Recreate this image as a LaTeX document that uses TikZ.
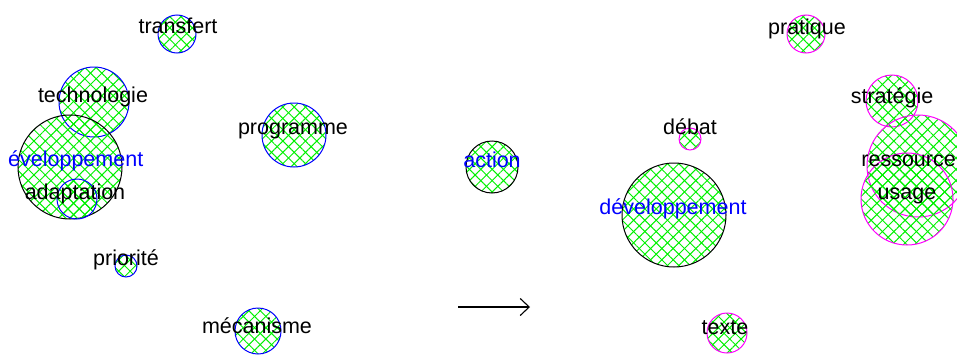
\documentclass[tikz,border=0pt]{standalone}
\usepackage{fontspec}
\setmainfont{Liberation Sans}
\usetikzlibrary{patterns.meta,arrows.meta}
\definecolor{hatchgreen}{RGB}{0,240,0}
\definecolor{rblue}{RGB}{0,0,255}
\definecolor{rmag}{RGB}{255,0,255}
\tikzset{
  hatch/.style={pattern={Lines[angle=45,distance=8pt,line width=1pt]},pattern color=hatchgreen},
  hatchb/.style={pattern={Lines[angle=-45,distance=8pt,line width=1pt]},pattern color=hatchgreen},
  bub/.style={circle,inner sep=0pt,minimum size=#1,line width=1pt},
  lbl/.style={anchor=base,inner sep=0pt,font=\fontsize{21.5}{21.5}\selectfont},
}
\newcommand{\bubble}[5]{% name, x, y, radius, color
  \node[bub=2*#4pt,hatch,draw=none] at (#2,#3) {};
  \node[bub=2*#4pt,hatchb,draw=#5] (#1) at (#2,#3) {};
}
\begin{document}
\begin{tikzpicture}[x=1pt,y=-1pt]
\useasboundingbox (0,0) rectangle (957,356);
% left group
\bubble{c1}{177}{34}{19}{rblue}
\bubble{c2}{94}{102}{35}{rblue}
\bubble{c3}{70}{167}{52}{black}
\bubble{c4}{77}{199}{20}{rblue}
\bubble{c5}{294}{135}{32}{rblue}
\bubble{c6}{126}{266}{11}{rblue}
\bubble{c7}{258}{331}{23}{rblue}
% middle
\bubble{c8}{492}{167}{26}{black}
% right group
\bubble{d1}{806}{34}{19}{rmag}
\bubble{d2}{892}{101}{26}{rmag}
\bubble{d3}{690}{139}{11}{rmag}
\bubble{d4}{918}{166}{51}{rmag}
\bubble{d5}{907}{199}{46}{rmag}
\bubble{d6}{674}{215}{52}{black}
\bubble{d7}{727}{333}{20}{rmag}
% labels
\node[lbl] (t1) at (178,33) {transfert};
\node[lbl] (t2) at (93,102) {technologie};
\node[lbl,text=rblue,anchor=base west] (t3) at (8,166) {éveloppement};
\node[lbl] (t4) at (75,199) {adaptation};
\node[lbl] (t5) at (293,134) {programme};
\node[lbl] (t6) at (126,265) {priorité};
\node[lbl] (t7) at (257,333) {mécanisme};
\node[lbl,text=rblue] (t8) at (492,167) {action};
\node[lbl] (u1) at (807,34) {pratique};
\node[lbl] (u2) at (892,103) {stratégie};
\node[lbl] (u3) at (690,134) {débat};
\node[lbl,anchor=base east] (u4) at (956,166) {ressource};
\node[lbl] (u5) at (907,199) {usage};
\node[lbl,text=rblue] (u6) at (673,214) {développement};
\node[lbl] (u7) at (725,334) {texte};
% arrow
\coordinate (a0) at (458,307);
\coordinate (a1) at (530,307);
\draw[line width=1.1pt,-{Straight Barb[length=9pt,width=17pt]}] (a0) -- (a1);
\end{tikzpicture}
\end{document}
